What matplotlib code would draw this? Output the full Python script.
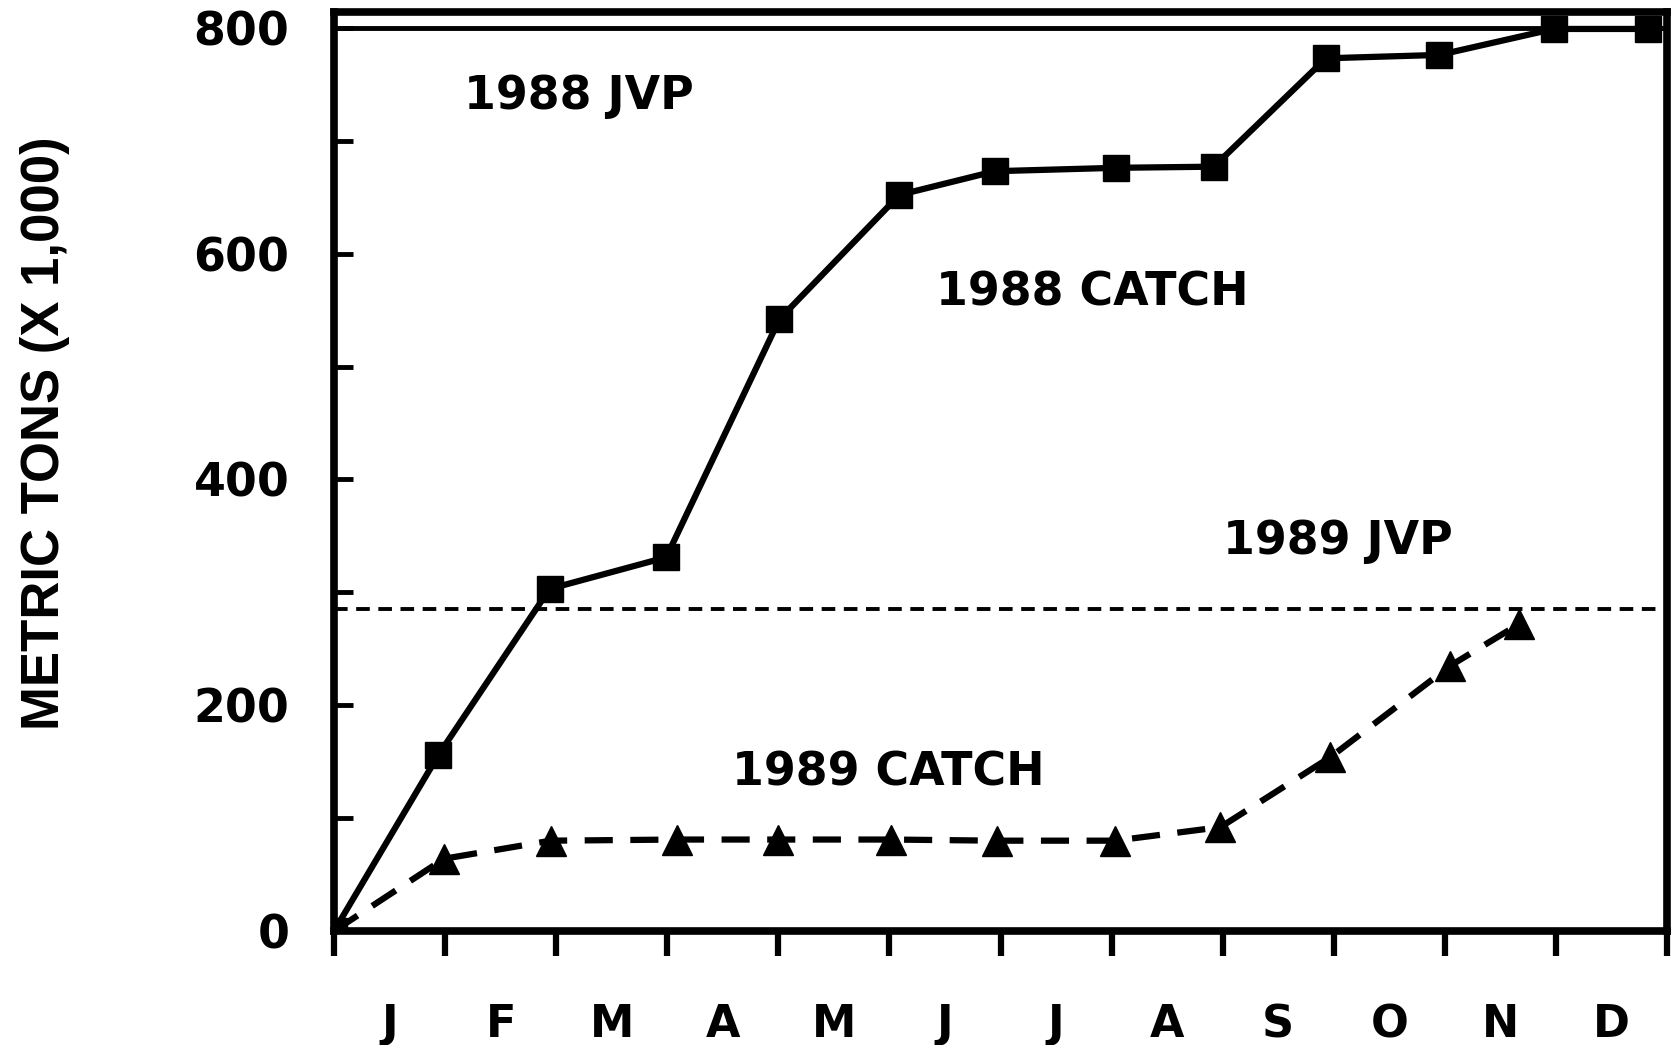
import numpy as np
import matplotlib.pyplot as plt

months = ['J', 'F', 'M', 'A', 'M', 'J', 'J', 'A', 'S', 'O', 'N', 'D']

# 1988 cumulative catch (squares)
catch88_x = [0, 0.94, 1.94, 2.99, 4.01, 5.09, 5.95, 7.04, 7.92, 8.93, 9.95, 10.98, 11.83]
catch88_y = [0, 156, 303, 331, 542, 652, 673, 676, 677, 773, 776, 799, 799]

# 1989 cumulative catch (triangles)
catch89_x = [0, 0.99, 1.95, 3.09, 4.0, 5.01, 5.97, 7.03, 7.98, 8.97, 10.05, 10.67]
catch89_y = [0, 64, 80, 81, 81, 81, 80, 80, 92, 154, 235, 272]

jvp88 = 800
jvp89 = 285

fnt = 'DejaVu Sans'

fig = plt.figure(figsize=(16.72, 10.45), dpi=100)
ax = fig.add_axes([0.1998, 0.1091, 0.7972, 0.8794])

ax.plot([0, 12], [jvp88, jvp88], color='black', lw=3.5)
ax.plot([0, 12], [jvp89, jvp89], color='black', lw=2.8, dashes=(3.5, 2.2))
ax.plot(catch88_x, catch88_y, color='black', lw=4.5, marker='s', ms=19)
ax.plot(catch89_x, catch89_y, color='black', lw=4.5, dashes=(4.5, 2.8),
        marker='^', ms=22)

ax.set_xlim(0, 12)
ax.set_ylim(0, 814)

for s in ax.spines.values():
    s.set_linewidth(5.5)

ax.set_xticks(np.arange(0, 13))
ax.set_xticklabels([])
ax.set_xticks(np.arange(12) + 0.5, minor=True)
ax.set_xticklabels(months, minor=True, fontsize=32, fontweight='bold', family=fnt)
ax.tick_params(axis='x', which='major', direction='out', length=18, width=4.5)
ax.tick_params(axis='x', which='minor', length=0, pad=52)

ax.set_yticks(np.arange(0, 801, 200))
ax.set_yticklabels([str(v) for v in range(0, 801, 200)], fontsize=33,
                   fontweight='bold', family=fnt)
ax.set_yticks(np.arange(100, 801, 200), minor=True)
ax.tick_params(axis='y', which='both', direction='in', length=14, width=3.5, pad=32)

ax.text(2.2, 739, '1988 JVP', fontsize=33, fontweight='bold', family=fnt,
        ha='center', va='center')
ax.text(6.83, 565, '1988 CATCH', fontsize=33, fontweight='bold', family=fnt,
        ha='center', va='center')
ax.text(9.04, 345, '1989 JVP', fontsize=33, fontweight='bold', family=fnt,
        ha='center', va='center')
ax.text(4.99, 140, '1989 CATCH', fontsize=33, fontweight='bold', family=fnt,
        ha='center', va='center')

fig.text(0.027, 0.585, 'METRIC TONS (X 1,000)', rotation=90, fontsize=38,
         fontweight='bold', family=['Liberation Sans', 'DejaVu Sans'],
         ha='center', va='center')

fig.savefig('out.png', dpi=100)
